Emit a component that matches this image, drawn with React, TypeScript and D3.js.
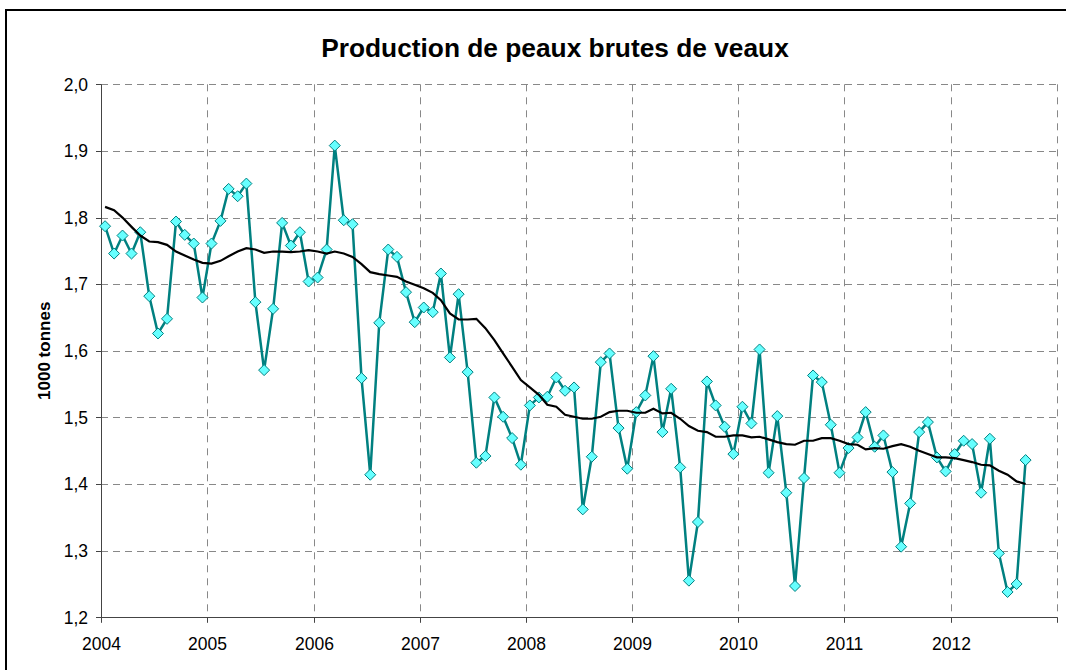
import React from 'react'
import * as d3 from 'd3'

// monthly production, Jan 2004 - Sep 2012 (1000 tonnes)
const prod2004 = [1.787, 1.746, 1.773, 1.746, 1.778, 1.682, 1.626, 1.648, 1.794, 1.774, 1.761, 1.680]
const prod2005 = [1.761, 1.795, 1.843, 1.832, 1.851, 1.673, 1.571, 1.663, 1.792, 1.758, 1.778, 1.704]
const prod2006 = [1.710, 1.752, 1.908, 1.796, 1.790, 1.559, 1.414, 1.642, 1.752, 1.741, 1.688, 1.643]
const prod2007 = [1.665, 1.658, 1.716, 1.590, 1.685, 1.568, 1.432, 1.442, 1.530, 1.501, 1.469, 1.429]
const prod2008 = [1.518, 1.530, 1.531, 1.560, 1.540, 1.545, 1.362, 1.441, 1.583, 1.596, 1.484, 1.423]
const prod2009 = [1.508, 1.533, 1.592, 1.478, 1.543, 1.425, 1.255, 1.343, 1.554, 1.518, 1.486, 1.445]
const prod2010 = [1.516, 1.491, 1.602, 1.417, 1.502, 1.387, 1.247, 1.409, 1.563, 1.553, 1.489, 1.417]
const prod2011 = [1.454, 1.470, 1.508, 1.456, 1.473, 1.418, 1.306, 1.371, 1.478, 1.493, 1.440, 1.419]
const prod2012 = [1.445, 1.465, 1.460, 1.387, 1.468, 1.296, 1.238, 1.250, 1.436]

// 12-month moving average
const avg2004 = [1.816, 1.811, 1.800, 1.786, 1.773, 1.764, 1.763, 1.759, 1.749, 1.743, 1.737, 1.732]
const avg2005 = [1.731, 1.735, 1.742, 1.749, 1.754, 1.752, 1.747, 1.749, 1.749, 1.748, 1.749, 1.751]
const avg2006 = [1.749, 1.746, 1.749, 1.746, 1.741, 1.730, 1.718, 1.715, 1.713, 1.711, 1.704, 1.699]
const avg2007 = [1.694, 1.687, 1.676, 1.656, 1.647, 1.647, 1.648, 1.634, 1.616, 1.596, 1.576, 1.556]
const avg2008 = [1.545, 1.534, 1.519, 1.516, 1.504, 1.501, 1.498, 1.498, 1.501, 1.508, 1.510, 1.510]
const avg2009 = [1.507, 1.507, 1.513, 1.506, 1.507, 1.498, 1.487, 1.480, 1.478, 1.471, 1.471, 1.473]
const avg2010 = [1.473, 1.470, 1.471, 1.467, 1.463, 1.460, 1.459, 1.465, 1.465, 1.469, 1.469, 1.465]
const avg2011 = [1.460, 1.459, 1.452, 1.454, 1.453, 1.457, 1.460, 1.456, 1.450, 1.445, 1.440, 1.440]
const avg2012 = [1.439, 1.436, 1.433, 1.429, 1.428, 1.420, 1.414, 1.404, 1.400]

const years = [2004, 2005, 2006, 2007, 2008, 2009, 2010, 2011, 2012, 2013]
const yTicks = [1.2, 1.3, 1.4, 1.5, 1.6, 1.7, 1.8, 1.9, 2.0]

const title = 'Production de peaux brutes de veaux'
const yTitle = '1000 tonnes'

const production = [...prod2004, ...prod2005, ...prod2006, ...prod2007, ...prod2008,
  ...prod2009, ...prod2010, ...prod2011, ...prod2012]
const average = [...avg2004, ...avg2005, ...avg2006, ...avg2007, ...avg2008,
  ...avg2009, ...avg2010, ...avg2011, ...avg2012]

// points sit in the middle of each month
const monthDate = (i: number) => new Date(2004, i, 15)

export default function App() {
  const W = 1066, H = 670
  const left = 101, right = 1057, top = 84.3, bottom = 617.3
  const font = '"Liberation Sans", Arial, sans-serif'

  const x = d3.scaleTime()
    .domain([new Date(2004, 0, 1), new Date(2013, 0, 1)])
    .range([left, right])
  const y = d3.scaleLinear().domain([1.2, 2.0]).range([bottom, top])

  const line = d3.line<number>()
    .x((d, i) => x(monthDate(i)))
    .y(d => y(d))

  const diamond = (cx: number, cy: number, r: number) =>
    `M${cx},${cy - r}L${cx + r},${cy}L${cx},${cy + r}L${cx - r},${cy}Z`

  const fmt = (v: number) => v.toFixed(1).replace('.', ',')

  return (
    <svg width={W} height={H} style={{position: 'absolute', left: 0, top: 0, background: '#fff'}}>
      <rect x={6} y={10} width={W + 20} height={H + 20} fill='#fff' stroke='#000' strokeWidth={2}/>

      <text x={555} y={56.5} textAnchor='middle' fontFamily={font} fontWeight='bold' fontSize={26.3}>
        {title}
      </text>

      {/* grid */}
      {yTicks.filter(t => t > 1.2).map(t => (
        <line key={'h' + t} x1={left} x2={right} y1={Math.round(y(t)) + 0.5} y2={Math.round(y(t)) + 0.5}
          stroke='#888' strokeWidth={1} strokeDasharray='7,5'/>
      ))}
      {years.slice(1).map(yr => {
        const xx = Math.round(x(new Date(yr, 0, 1))) + 0.5
        return <line key={'v' + yr} x1={xx} x2={xx} y1={top} y2={bottom}
          stroke='#888' strokeWidth={1} strokeDasharray='7,6'/>
      })}

      {/* axes */}
      <line x1={left + 0.5} x2={left + 0.5} y1={top} y2={bottom + 0.5} stroke='#444' strokeWidth={1}/>
      <line x1={left} x2={right + 0.5} y1={Math.round(bottom) + 0.5} y2={Math.round(bottom) + 0.5} stroke='#444' strokeWidth={1}/>
      {yTicks.map(t => (
        <g key={'yt' + t}>
          <line x1={left - 5} x2={left} y1={Math.round(y(t)) + 0.5} y2={Math.round(y(t)) + 0.5} stroke='#444'/>
          <text x={88} y={y(t)} dy='0.36em' textAnchor='end' fontFamily={font} fontSize={17.5}>{fmt(t)}</text>
        </g>
      ))}
      {years.map(yr => {
        const xx = Math.round(x(new Date(yr, 0, 1))) + 0.5
        return (
          <g key={'xt' + yr}>
            <line x1={xx} x2={xx} y1={bottom} y2={bottom + 5.5} stroke='#444'/>
            {yr < 2013 && (
              <text x={xx} y={649.5} textAnchor='middle' fontFamily={font} fontSize={17.5}>{yr}</text>
            )}
          </g>
        )
      })}

      <text transform={`translate(49.5,${(top + bottom) / 2}) rotate(-90)`} textAnchor='middle'
        fontFamily={font} fontWeight='bold' fontSize={17}>{yTitle}</text>

      {/* series */}
      <path d={line(production) || ''} fill='none' stroke='#008080' strokeWidth={2.5}/>
      {production.map((v, i) => (
        <path key={'m' + i} d={diamond(x(monthDate(i)), y(v), 5.5)} fill='#66FFFF' stroke='#008080' strokeWidth={1}/>
      ))}
      <path d={line(average) || ''} fill='none' stroke='#000' strokeWidth={2.2}/>
    </svg>
  )
}
